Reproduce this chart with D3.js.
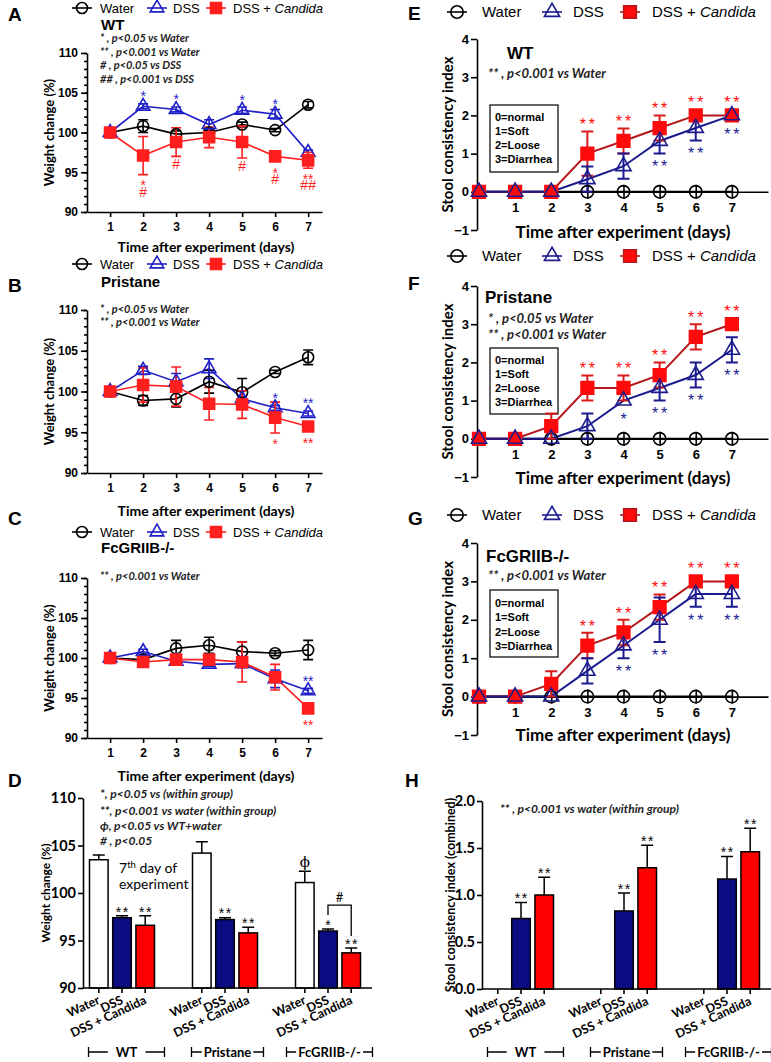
<!DOCTYPE html>
<html>
<head>
<meta charset="utf-8">
<script src="https://d3js.org/d3.v7.min.js"></script>
<style>
  body { margin: 0; background: #fff; }
  svg { display: block; }
</style>
</head>
<body>
<script>
// ---------------- data ----------------
const days = [1, 2, 3, 4, 5, 6, 7];
const stoolDays = [0, 1, 2, 3, 4, 5, 6, 7];

// A - WT body weight (%)
const wtWater    = [100, 100.8, 99.8, 100.0, 101.0, 100.3, 103.5];
const wtWaterErr = [0.2, 0.8, 0.4, 0.3, 0.3, 0.2, 0.4];
const wtDss      = [100, 103.3, 102.9, 101.0, 102.8, 102.3, 97.5];
const wtDssErr   = [0.3, 0.3, 0.3, 0.6, 0.4, 0.6, 0.3];
const wtCand     = [100, 97.1, 98.8, 99.4, 98.8, 97.0, 96.5];
const wtCandErr  = [0.3, 2.4, 1.8, 1.3, 2.0, 0.3, 1.0];
const wtDssSig   = ['', '*', '*', '', '*', '*', ''];
const wtCandSig  = ['', '*\n#', '#', '', '#', '*\n#', '**\n##'];

// B - Pristane body weight (%)
const prWater    = [100, 98.9, 99.1, 101.2, 99.9, 102.4, 104.2];
const prWaterErr = [0.3, 0.6, 1.0, 1.4, 1.7, 0.2, 0.9];
const prDss      = [100, 102.6, 101.2, 102.8, 99.1, 98.0, 97.3];
const prDssErr   = [0.3, 0.5, 1.0, 1.2, 0.3, 0.3, 0.3];
const prCand     = [100, 100.8, 100.6, 98.5, 98.4, 96.8, 95.7];
const prCandErr  = [0.3, 2.1, 2.4, 2.0, 1.7, 1.9, 0.3];
const prDssSig   = ['', '', '', '', '', '*', '**'];
const prCandSig  = ['', '', '', '', '', '*', '**'];

// C - FcGRIIB-/- body weight (%)
const fcWater    = [100, 99.8, 101.2, 101.6, 100.8, 100.6, 101.0];
const fcWaterErr = [0.2, 0.3, 1.0, 1.0, 1.2, 0.3, 1.2];
const fcDss      = [100, 100.8, 99.6, 99.2, 99.3, 97.4, 95.9];
const fcDssErr   = [0.2, 0.3, 0.3, 0.3, 0.5, 1.1, 0.3];
const fcCand     = [100, 99.5, 99.8, 99.8, 99.5, 97.6, 93.7];
const fcCandErr  = [0.2, 0.3, 0.3, 0.3, 2.5, 1.6, 0.3];
const fcDssSig   = ['', '', '', '', '', '', '**'];
const fcCandSig  = ['', '', '', '', '', '', '**'];

// D - day 7 weight (%)
const groups = ['WT', 'Pristane', 'FcGRIIB-/-'];
const treatments = ['Water', 'DSS', 'DSS + Candida'];
const day7Water    = [103.5, 104.2, 101.1];
const day7WaterErr = [0.5, 1.2, 1.2];
const day7Dss      = [97.4, 97.2, 96.0];
const day7DssErr   = [0.2, 0.2, 0.2];
const day7Cand     = [96.6, 95.8, 93.7];
const day7CandErr  = [1.0, 0.6, 0.5];
const day7WaterSig = ['', '', 'ϕ'];
const day7DssSig   = ['**', '**', '*'];
const day7CandSig  = ['**', '**', '**'];

// E - WT stool index
const stoolWater   = [0, 0, 0, 0, 0, 0, 0, 0];
const wtStDss      = [0, 0, 0, 0.33, 0.67, 1.33, 1.67, 2.0];
const wtStDssErr   = [0, 0, 0, 0.33, 0.33, 0.33, 0.33, 0];
const wtStCand     = [0, 0, 0, 1.0, 1.33, 1.67, 2.0, 2.0];
const wtStCandErr  = [0, 0, 0, 0.58, 0.33, 0.33, 0, 0];
const wtStDssSig   = ['', '', '', '', '', '**', '**', '**'];
const wtStCandSig  = ['', '', '', '**', '**', '**', '**', '**'];

// F - Pristane stool index
const prStDss      = [0, 0, 0, 0.33, 1.0, 1.33, 1.67, 2.33];
const prStDssErr   = [0, 0, 0, 0.33, 0, 0.33, 0.33, 0.33];
const prStCand     = [0, 0, 0.33, 1.33, 1.33, 1.67, 2.67, 3.0];
const prStCandErr  = [0, 0, 0.33, 0.33, 0.33, 0.33, 0.33, 0];
const prStDssSig   = ['', '', '', '', '*', '**', '**', '**'];
const prStCandSig  = ['', '', '', '**', '**', '**', '**', '**'];

// G - FcGRIIB-/- stool index
const fcStDss      = [0, 0, 0, 0.67, 1.33, 2.0, 2.67, 2.67];
const fcStDssErr   = [0, 0, 0, 0.33, 0.33, 0.58, 0.33, 0.33];
const fcStCand     = [0, 0, 0.33, 1.33, 1.67, 2.33, 3.0, 3.0];
const fcStCandErr  = [0, 0, 0.33, 0.33, 0.33, 0.33, 0, 0];
const fcStDssSig   = ['', '', '', '', '**', '**', '**', '**'];
const fcStCandSig  = ['', '', '', '**', '**', '**', '**', '**'];

// H - combined stool index
const combWater    = [0, 0, 0];
const combWaterErr = [0, 0, 0];
const combDss      = [0.75, 0.83, 1.17];
const combDssErr   = [0.17, 0.19, 0.24];
const combCand     = [1.0, 1.29, 1.46];
const combCandErr  = [0.19, 0.24, 0.25];
const combWaterSig = ['', '', ''];
const combDssSig   = ['**', '**', '**'];
const combCandSig  = ['**', '**', '**'];

const stoolKey = ['0=normal', '1=Soft', '2=Loose', '3=Diarrhea'];

// ---------------- drawing ----------------
const ARIAL = '"Liberation Sans", Arial, sans-serif';
const CAL = 'Lato, "Open Sans", sans-serif';

const svg = d3.select('body').append('svg')
  .attr('width', 771).attr('height', 1062);

function txt(g, x, y, s, o = {}) {
  const t = g.append('text').attr('x', x).attr('y', y).text(s)
    .style('font-family', o.family || ARIAL)
    .style('font-size', (o.size || 12) + 'px')
    .style('font-weight', o.weight || 'normal')
    .style('font-style', o.italic ? 'italic' : 'normal')
    .attr('fill', o.fill || '#000')
    .attr('text-anchor', o.anchor || 'start');
  if (o.ls) t.style('letter-spacing', o.ls + 'px');
  return t;
}

// significance marks, centre of first line at yc (one text element, one tspan per line)
function sig(g, x, yc, str, dir, color, fs, ls, weight) {
  if (!str) return;
  const lines = str.split('\n');
  const t = g.append('text')
    .style('font-family', ARIAL).style('font-size', fs + 'px').style('font-weight', weight || 'normal')
    .attr('fill', color).attr('text-anchor', 'middle');
  if (ls) t.style('letter-spacing', ls + 'px');
  lines.forEach((ln, i) => {
    const c = yc + dir * i * 9;
    const base = c + (ln.includes('*') ? 0.55 : 0.36) * fs;
    t.append('tspan').attr('x', x + (ls ? ls / 2 : 0)).attr('y', base).text(ln);
  });
}

function styleAxis(a, fs, family) {
  a.selectAll('path, line').attr('stroke', '#000').attr('stroke-width', 1.6);
  a.selectAll('text').style('font-family', family || ARIAL).style('font-size', fs + 'px')
    .style('font-weight', 'bold').attr('fill', '#000');
}

function legend(g, y, xs, fs, sizes, cols) {
  const sym = [d3.symbolCircle, d3.symbolTriangle, d3.symbolSquare];
  const names = ['Water', 'DSS', 'DSS + '];
  sym.forEach((s, i) => {
    const cx = xs[i * 2];
    g.append('line').attr('x1', cx - 10).attr('x2', cx + 10).attr('y1', y).attr('y2', y)
      .attr('stroke', cols.stroke[i]).attr('stroke-width', 1.6);
    g.append('path').attr('d', d3.symbol().type(s).size(sizes[i])())
      .attr('transform', `translate(${cx},${y})`)
      .attr('fill', i === 2 ? cols.fill : 'none').attr('stroke', cols.stroke[i]).attr('stroke-width', 1.6);
    const t = txt(g, xs[i * 2 + 1], y + fs * 0.36, names[i], {size: fs});
    if (i === 2) t.append('tspan').style('font-style', 'italic').text('Candida');
  });
}

function drawSeries(g, x, y, xs, sets, cap, lw) {
  const line = d3.line().x((d, i) => x(xs[i])).y(d => y(d));
  sets.forEach(s => {
    g.append('path').datum(s.v).attr('d', line).attr('fill', 'none')
      .attr('stroke', s.line).attr('stroke-width', lw);
  });
  sets.forEach(s => {
    s.v.forEach((v, i) => {
      const e = s.e[i];
      if (!e) return;
      const cx = x(xs[i]);
      g.append('path')
        .attr('d', `M${cx},${y(v - e)}V${y(v + e)}M${cx - cap},${y(v + e)}H${cx + cap}M${cx - cap},${y(v - e)}H${cx + cap}`)
        .attr('stroke', s.err).attr('stroke-width', lw).attr('fill', 'none');
    });
  });
  sets.forEach(s => {
    g.selectAll(null).data(s.v).enter().append('path')
      .attr('d', d3.symbol().type(s.sym).size(s.size)())
      .attr('transform', (d, i) => `translate(${x(xs[i])},${y(d)})`)
      .attr('fill', s.fill).attr('stroke', s.stroke).attr('stroke-width', 1.6);
  });
}

// ---------- weight line panels A-C ----------
const blue = '#1f1fc8', red = '#ff1f1f';
const weightPanels = [
  {letter: 'A', letterY: 21, strain: 'WT', strainY: 30, top: 53, bottom: 212, legendY: 8, titleY: 252,
   notes: ['* , p<0.05 vs Water', '** , p<0.001 vs Water', '# , p<0.05 vs DSS', '## , p<0.001 vs DSS'],
   notesY: [41.5, 55.5, 68.5, 82.5],
   water: wtWater, waterErr: wtWaterErr, dss: wtDss, dssErr: wtDssErr, cand: wtCand, candErr: wtCandErr,
   dssSig: wtDssSig, candSig: wtCandSig},
  {letter: 'B', letterY: 292, strain: 'Pristane', strainY: 287, top: 310, bottom: 473, legendY: 264, titleY: 516,
   notes: ['* , p<0.05 vs Water', '** , p<0.001 vs Water'], notesY: [312.5, 325.5],
   water: prWater, waterErr: prWaterErr, dss: prDss, dssErr: prDssErr, cand: prCand, candErr: prCandErr,
   dssSig: prDssSig, candSig: prCandSig},
  {letter: 'C', letterY: 525, strain: 'FcGRIIB-/-', strainY: 553, top: 578, bottom: 738, legendY: 532, titleY: 781,
   notes: ['** , p<0.001 vs Water'], notesY: [579.5],
   water: fcWater, waterErr: fcWaterErr, dss: fcDss, dssErr: fcDssErr, cand: fcCand, candErr: fcCandErr,
   dssSig: fcDssSig, candSig: fcCandSig}
];

weightPanels.forEach(p => {
  const g = svg.append('g');
  const x = d3.scaleLinear().domain([0.3, 7.42]).range([87, 322]);
  const y = d3.scaleLinear().domain([90, 110]).range([p.bottom, p.top]);

  const ax = g.append('g').attr('transform', `translate(0,${p.bottom})`)
    .call(d3.axisBottom(x).tickValues(days).tickSizeInner(5).tickSizeOuter(0).tickPadding(5));
  styleAxis(ax, 12);
  const ayMinor = g.append('g').attr('transform', 'translate(87,0)')
    .call(d3.axisLeft(y).tickValues(d3.range(90, 111)).tickSize(3).tickFormat(''));
  ayMinor.select('.domain').remove();
  styleAxis(ayMinor, 12);
  const ay = g.append('g').attr('transform', 'translate(87,0)')
    .call(d3.axisLeft(y).tickValues([90, 95, 100, 105, 110]).tickSize(6).tickSizeOuter(0).tickPadding(3));
  styleAxis(ay, 12);

  txt(g, 206, p.titleY, 'Time after experiment (days)', {family: CAL, size: 14, weight: 'bold', anchor: 'middle'});
  txt(g, 0, 0, 'Weight change (%)', {family: CAL, size: 13, weight: 'bold', anchor: 'middle'})
    .attr('transform', `translate(54,${(p.top + p.bottom) / 2}) rotate(-90)`);
  txt(g, 8, p.letterY, p.letter, {size: 19, weight: 'bold'});
  txt(g, 101, p.strainY, p.strain, {size: 15, weight: 'bold'});
  p.notes.forEach((n, i) => txt(g, 100, p.notesY[i], n, {family: CAL, size: 11, weight: 'bold', italic: true, fill: '#222'}));

  legend(g, p.legendY, [82, 100, 157, 173, 216, 233], 13, [95, 80, 121],
    {stroke: ['#000', blue, red], fill: red});

  drawSeries(g, x, y, days, [
    {v: p.water, e: p.waterErr, line: '#000', err: '#000', sym: d3.symbolCircle, size: 95, fill: 'none', stroke: '#000'},
    {v: p.dss, e: p.dssErr, line: blue, err: blue, sym: d3.symbolTriangle, size: 80, fill: 'none', stroke: blue},
    {v: p.cand, e: p.candErr, line: red, err: red, sym: d3.symbolSquare, size: 121, fill: red, stroke: red}
  ], 5, 1.6);

  days.forEach((d, i) => {
    const up = Math.min(y(p.dss[i] + p.dssErr[i]), y(p.dss[i]) - 6) - 7;
    sig(g, x(d), up, p.dssSig[i], -1, blue, 14, 0);
    const dn = Math.max(y(p.cand[i] - p.candErr[i]), y(p.cand[i]) + 6) + 8;
    sig(g, x(d), dn, p.candSig[i], 1, red, 14, 0);
  });
});

// ---------- stool line panels E-G ----------
const navy = '#1b1b8e', darkRed = '#b5161b', markRed = '#ff0a0a';
const stoolPanels = [
  {letter: 'E', letterY: 20, strain: 'WT', strainX: 507, strainY: 59, top: 39, bottom: 230, legendY: 12, titleY: 238,
   notes: ['** , p<0.001 vs Water'], notesY: [78], box: [490, 105, 558, 172], boxY: [121, 135, 149, 163],
   dss: wtStDss, dssErr: wtStDssErr, cand: wtStCand, candErr: wtStCandErr, dssSig: wtStDssSig, candSig: wtStCandSig},
  {letter: 'F', letterY: 290, strain: 'Pristane', strainX: 485, strainY: 303, top: 286, bottom: 477, legendY: 256, titleY: 484,
   notes: ['* , p<0.05 vs Water', '** , p<0.001 vs Water'], notesY: [323, 339], box: [490, 348, 558, 414], boxY: [364, 378, 392, 406],
   dss: prStDss, dssErr: prStDssErr, cand: prStCand, candErr: prStCandErr, dssSig: prStDssSig, candSig: prStCandSig},
  {letter: 'G', letterY: 525, strain: 'FcGRIIB-/-', strainX: 486, strainY: 562, top: 543, bottom: 735, legendY: 515, titleY: 741,
   notes: ['** , p<0.001 vs Water'], notesY: [580], box: [490, 590, 558, 657], boxY: [607, 621, 636, 650],
   dss: fcStDss, dssErr: fcStDssErr, cand: fcStCand, candErr: fcStCandErr, dssSig: fcStDssSig, candSig: fcStCandSig}
];

stoolPanels.forEach(p => {
  const g = svg.append('g');
  const x = d3.scaleLinear().domain([-0.055, 8]).range([477, 768]);
  const y = d3.scaleLinear().domain([-1, 4]).range([p.bottom, p.top]);

  const ax = g.append('g').attr('transform', `translate(0,${y(0)})`)
    .call(d3.axisBottom(x).tickValues(days).tickSizeInner(7).tickSizeOuter(0).tickPadding(4));
  ax.selectAll('.tick line').attr('y1', -7);
  styleAxis(ax, 13);
  const ay = g.append('g').attr('transform', 'translate(477,0)')
    .call(d3.axisLeft(y).tickValues([-1, 0, 1, 2, 3, 4]).tickFormat(d3.format('d'))
      .tickSize(6).tickSizeOuter(0).tickPadding(2));
  styleAxis(ay, 13);

  txt(g, 623, p.titleY, 'Time after experiment (days)', {family: CAL, size: 17, weight: 'bold', anchor: 'middle'});
  txt(g, 0, 0, 'Stool consistency index', {family: CAL, size: 15, weight: 'bold', anchor: 'middle'})
    .attr('transform', `translate(453,${(p.top + p.bottom) / 2}) rotate(-90)`);
  txt(g, 408, p.letterY, p.letter, {size: 19, weight: 'bold'});
  txt(g, p.strainX, p.strainY, p.strain, {size: 17, weight: 'bold'});
  p.notes.forEach((n, i) => txt(g, 488, p.notesY[i], n, {family: CAL, size: 13, weight: 'bold', italic: true, fill: '#222'}));

  const b = p.box;
  g.append('rect').attr('x', b[0]).attr('y', b[1]).attr('width', b[2] - b[0]).attr('height', b[3] - b[1])
    .attr('fill', '#fff').attr('stroke', '#000').attr('stroke-width', 1.2);
  stoolKey.forEach((k, i) => txt(g, b[0] + 5, p.boxY[i], k, {size: 11, weight: 'bold'}));

  legend(g, p.legendY, [457, 482, 552, 573, 630, 652], 15, [120, 100, 160],
    {stroke: ['#000', navy, darkRed], fill: markRed});

  drawSeries(g, x, y, stoolDays, [
    {v: stoolWater, e: stoolWater, line: '#000', err: '#000', sym: d3.symbolCircle, size: 120, fill: 'none', stroke: '#000'},
    {v: p.cand, e: p.candErr, line: darkRed, err: '#d81c1c', sym: d3.symbolSquare, size: 160, fill: markRed, stroke: markRed},
    {v: p.dss, e: p.dssErr, line: navy, err: navy, sym: d3.symbolTriangle, size: 100, fill: 'none', stroke: navy}
  ], 6, 2);

  stoolDays.forEach((d, i) => {
    const up = Math.min(y(p.cand[i] + p.candErr[i]), y(p.cand[i]) - 6) - 10;
    sig(g, x(d), up, p.candSig[i], -1, markRed, 16, 3);
    const dn = Math.max(y(p.dss[i] - p.dssErr[i]), y(p.dss[i]) + 6) + 10;
    sig(g, x(d), dn, p.dssSig[i], 1, navy, 16, 3);
  });
});

// ---------- bar panels D and H ----------
const barNavy = '#0c0c82', barRed = '#ff0000';
const barPanels = [
  {letter: 'D', letterX: 8, letterY: 787, top: 798, bottom: 988, axisX: [83, 372], groupRange: [70.5, 379.5],
   domain: [90, 110], ticks: [90, 95, 100, 105, 110], fmt: d3.format('d'),
   yTitle: 'Weight change (%)', yTitleX: 50, yTitleSize: 12,
   notes: ['*, p<0.05 vs (within group)', '**, p<0.001 vs water (within group)', 'ϕ, p<0.05 vs  WT+water', '# , p<0.05'],
   notesX: 100, notesY: [798, 815, 830, 845],
   vals: [day7Water, day7Dss, day7Cand], errs: [day7WaterErr, day7DssErr, day7CandErr],
   sigs: [day7WaterSig, day7DssSig, day7CandSig]},
  {letter: 'H', letterX: 405, letterY: 787, top: 801, bottom: 989, axisX: [482, 771], groupRange: [469.5, 778.5],
   domain: [0, 2], ticks: [0, 0.5, 1, 1.5, 2], fmt: d3.format('.1f'),
   yTitle: 'Stool consistency index (combined)', yTitleX: 455, yTitleSize: 12.5,
   notes: ['** , p<0.001 vs  water (within group)'], notesX: 500, notesY: [813],
   vals: [combWater, combDss, combCand], errs: [combWaterErr, combDssErr, combCandErr],
   sigs: [combWaterSig, combDssSig, combCandSig]}
];
const bracketInset = [[18, 9], [18, 13], [10, 7]];

barPanels.forEach(p => {
  const g = svg.append('g');
  const gx = d3.scaleBand().domain(groups).range(p.groupRange);
  const ix = d3.scaleBand().domain(treatments).range([19, 84]).paddingInner(0.2);
  const y = d3.scaleLinear().domain(p.domain).range([p.bottom, p.top]);
  const fills = ['#fff', barNavy, barRed];

  const rows = [];
  groups.forEach((grp, gi) => treatments.forEach((tr, ti) => rows.push({
    grp, tr, ti, v: p.vals[ti][gi], e: p.errs[ti][gi], s: p.sigs[ti][gi],
    cx: gx(grp) + ix(tr) + ix.bandwidth() / 2
  })));

  // error bars (upper only)
  rows.filter(r => r.e > 0).forEach(r => {
    g.append('path').attr('d', `M${r.cx},${y(r.v)}V${y(r.v + r.e)}M${r.cx - 6},${y(r.v + r.e)}H${r.cx + 6}`)
      .attr('stroke', '#000').attr('stroke-width', 1.5).attr('fill', 'none');
  });
  g.selectAll('rect.bar').data(rows.filter(r => r.v > p.domain[0])).enter().append('rect')
    .attr('class', 'bar')
    .attr('x', r => gx(r.grp) + ix(r.tr)).attr('width', ix.bandwidth())
    .attr('y', r => y(r.v)).attr('height', r => y(p.domain[0]) - y(r.v))
    .attr('fill', r => fills[r.ti]).attr('stroke', '#000').attr('stroke-width', 1.5);

  // axes
  const ay = g.append('g').attr('transform', `translate(${p.axisX[0]},0)`)
    .call(d3.axisLeft(y).tickValues(p.ticks).tickFormat(p.fmt).tickSize(5).tickSizeOuter(0).tickPadding(2));
  styleAxis(ay, 14.5, CAL);
  g.append('line').attr('x1', p.axisX[0]).attr('x2', p.axisX[1]).attr('y1', p.bottom).attr('y2', p.bottom)
    .attr('stroke', '#000').attr('stroke-width', 1.6);
  rows.forEach(r => {
    g.append('line').attr('x1', r.cx).attr('x2', r.cx).attr('y1', p.bottom).attr('y2', p.bottom + 5)
      .attr('stroke', '#000').attr('stroke-width', 1.6);
    txt(g, 0, 0, r.tr, {family: CAL, size: 12.5, weight: 'bold', anchor: 'end'})
      .attr('transform', `translate(${r.cx + 2},${p.bottom + 15}) rotate(-25)`);
    if (r.s) {
      const top = y(r.v + r.e) - (r.s === 'ϕ' ? 9 : 7);
      if (r.s === 'ϕ') txt(g, r.cx, top + 5, 'ϕ', {family: '"DejaVu Serif", serif', size: 15, anchor: 'middle'});
      else sig(g, r.cx, top, r.s, -1, '#000', 14, 1.5);
    }
  });

  // group brackets
  groups.forEach((grp, gi) => {
    const x0 = gx(grp) + bracketInset[gi][0], x1 = gx(grp) + gx.bandwidth() - bracketInset[gi][1];
    const yb = 1052;
    g.append('path').attr('d', `M${x0},${yb - 5}V${yb + 5}M${x0},${yb}H${x1}M${x1},${yb - 5}V${yb + 5}`)
      .attr('stroke', '#000').attr('stroke-width', 1.3).attr('fill', 'none');
    const t = txt(g, (x0 + x1) / 2, yb + 4.5, grp, {family: CAL, size: 13, weight: 'bold', anchor: 'middle'});
    const bb = t.node().getBBox();
    const pad = gi === 0 ? 8 : 2;
    g.insert('rect', () => t.node()).attr('x', bb.x - pad).attr('y', bb.y).attr('width', bb.width + 2 * pad)
      .attr('height', bb.height).attr('fill', '#fff');
  });

  txt(g, 0, 0, p.yTitle, {family: CAL, size: p.yTitleSize, weight: 'bold', anchor: 'middle'})
    .attr('transform', `translate(${p.yTitleX},${(p.top + p.bottom) / 2}) rotate(-90)`);
  txt(g, p.letterX, p.letterY, p.letter, {size: 19, weight: 'bold'});
  p.notes.forEach((n, i) => txt(g, p.notesX, p.notesY[i], n, {family: CAL, size: 12, weight: 'bold', italic: true, fill: '#222'}));
});

// D: "#" bracket between FcGRIIB-/- DSS and DSS + Candida, and day-7 caption
(function () {
  const p = barPanels[0];
  const gx = d3.scaleBand().domain(groups).range(p.groupRange);
  const ix = d3.scaleBand().domain(treatments).range([19, 84]).paddingInner(0.2);
  const y = d3.scaleLinear().domain(p.domain).range([p.bottom, p.top]);
  const g = svg.append('g');
  const xa = gx(groups[2]) + ix('DSS') + ix.bandwidth() / 2;
  const xb = gx(groups[2]) + ix('DSS + Candida') + ix.bandwidth() / 2;
  const la = y(day7Dss[2] + day7DssErr[2]) - 14;
  const lb = y(day7Cand[2] + day7CandErr[2]) - 12;
  const topY = Math.min(la, lb) - 10;
  g.append('path').attr('d', `M${xa},${la}V${topY}H${xb}V${lb}`)
    .attr('stroke', '#000').attr('stroke-width', 1.3).attr('fill', 'none');
  txt(g, (xa + xb) / 2, topY - 3, '#', {family: CAL, size: 13, anchor: 'middle'});

  const cap = txt(g, 119, 873, '7', {family: CAL, size: 14});
  cap.append('tspan').attr('dy', -5).style('font-size', '9.5px').text('th');
  cap.append('tspan').attr('dy', 5).text(' day of');
  txt(g, 119, 889, 'experiment', {family: CAL, size: 14});
})();
</script>
</body>
</html>
